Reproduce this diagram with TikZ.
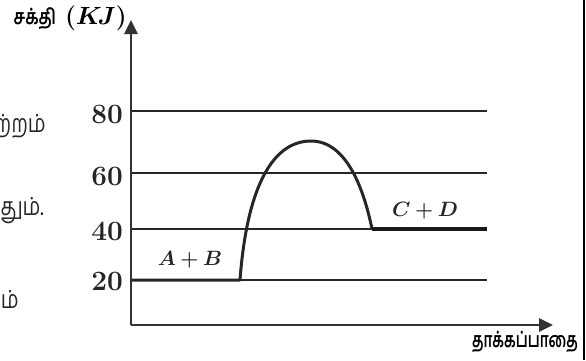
\documentclass[tikz,border=0pt]{standalone}
\usepackage{fontspec}
\usepackage{bm}
\usetikzlibrary{arrows.meta}
\newfontfamily\tamilfont[Script=Tamil]{Hind Madurai}
\begin{document}
\begin{tikzpicture}[x=1pt,y=-1pt,
  grid/.style={line width=1.3pt,black!85},
  axis/.style={line width=2.6pt,black!80,-{Triangle[length=14pt,width=13pt]}},
  curve/.style={line width=3pt,black!85},
  tick/.style={font=\fontsize{28}{30}\selectfont\bfseries,text=black!85,inner sep=0pt},
  lbl/.style={font=\fontsize{22}{24}\selectfont,text=black!85,inner sep=0pt},
  frag/.style={font=\tamilfont\fontsize{25}{28}\selectfont,text=black!85,anchor=east,inner sep=0pt}]
\useasboundingbox (0,0) rectangle (586,360);
% frame line on right
\draw[line width=1.3pt] (584,0) -- (584,360);
% cropped fragments of text on the left
\node[frag] (f1) at (46,126) {\scalebox{0.8}[1]{ற்றம்}};
\node[frag] (f2) at (44,211) {\scalebox{0.8}[1]{தும்.}};
\node[frag] (f3) at (19,299) {\scalebox{0.8}[1]{ம்}};
% coordinates
\coordinate (o) at (131,325);
\coordinate (ytop) at (131,20);
\coordinate (xend) at (553,325);
% grid lines
\coordinate (gal) at (131,111); \coordinate (gar) at (487,111);
\coordinate (gbl) at (131,173); \coordinate (gbr) at (487,173);
\coordinate (gcl) at (131,229); \coordinate (gcr) at (487,229);
\coordinate (gdl) at (131,280); \coordinate (gdr) at (487,280);
\draw[grid] (gal) -- (gar);
\draw[grid] (gbl) -- (gbr);
\draw[grid] (gcl) -- (gcr);
\draw[grid] (gdl) -- (gdr);
\node[tick,anchor=east] (ta) at (123,114) {80};
\node[tick,anchor=east] (tb) at (123,176) {60};
\node[tick,anchor=east] (tc) at (123,231) {40};
\node[tick,anchor=east] (td) at (123,281) {20};
% axes
\draw[axis] (o) -- (ytop);
\draw[axis] (o) -- (xend);
% curve
\coordinate (cs) at (240,280);
\coordinate (pk) at (311,141);
\coordinate (ce) at (372,229);
\draw[curve,line join=round] (gdl) -- (cs)
  .. controls (247,186) and (273,141) .. (pk)
  .. controls (345,141) and (363,185) .. (ce);
\draw[line width=4pt,black!90] (ce) -- (gcr);
% labels
\node[lbl] (nab) at (190,260) {$\bm{A+B}$};
\node[lbl] (ncd) at (425,211) {$\bm{C+D}$};
\node[anchor=east,inner sep=0pt] (yl) at (127,18) {{\tamilfont\fontsize{21}{24}\selectfont\bfseries\scalebox{0.78}[1]{சக்தி}}\hspace{9pt}{\fontsize{23}{24}\selectfont$\bm{(K\!J)}$}};
\node[font=\tamilfont\fontsize{21}{24}\selectfont\bfseries,inner sep=0pt] (xl) at (525,342) {\scalebox{0.68}[1]{தாக்கப்பாதை}};
\end{tikzpicture}
\end{document}
